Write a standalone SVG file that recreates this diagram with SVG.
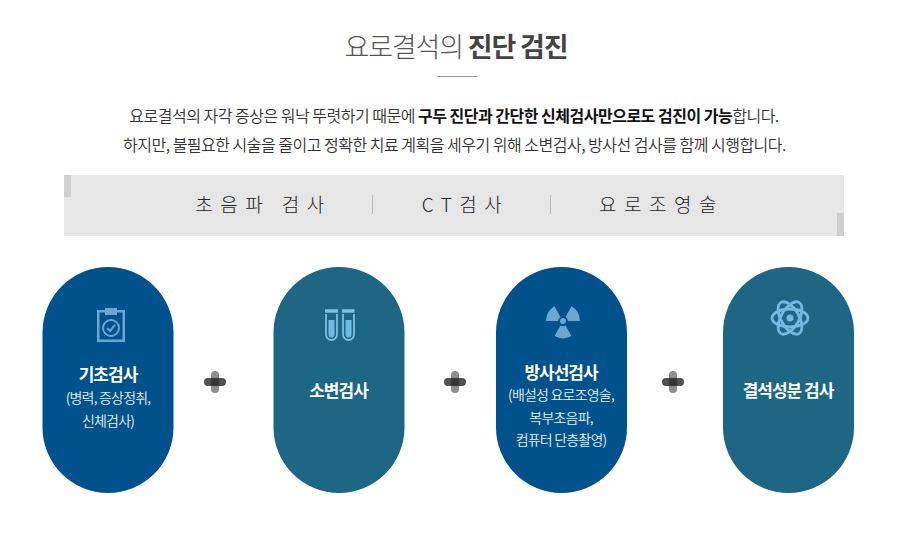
<svg xmlns="http://www.w3.org/2000/svg" width="915" height="538" viewBox="0 0 915 538">
<style>
text{font-family:"Noto Sans CJK KR","Noto Sans",sans-serif;text-anchor:middle}
.t{font-size:27px;fill:#555;font-weight:300;letter-spacing:-1.15px}
.p{font-size:16px;fill:#333;font-weight:350;letter-spacing:-.5px}
.b{font-weight:700;fill:#111}
.tab{font-size:19px;fill:#222;font-weight:300;letter-spacing:7.5px}
.h{font-size:17px;fill:#fff;font-weight:700;letter-spacing:-1px}
.s{font-size:14px;fill:#e6eef5;font-weight:350;letter-spacing:-.8px}
.navy{fill:#00528c}.teal{fill:#1d6785}
.ic{fill:#6aa6d0}.icl{fill:#72bbe0}
.pv{fill:#8e8e8e}.ph{fill:#505050}.pc{fill:#363636}
</style>
<rect width="915" height="538" fill="#fff"/>
<g id="title">
<text class="t" x="456" y="56.500">요로결석의 <tspan font-weight="700" fill="#444">진단 검진</tspan></text>
<rect x="437" y="76" width="40" height="1" fill="#999"/>
<text class="p" x="454" y="122">요로결석의 자각 증상은 워낙 뚜렷하기 때문에 <tspan class="b">구두 진단과 간단한 신체검사만으로도 검진이 가능</tspan>합니다.</text>
<text class="p" x="454.500" y="151">하지만, 불필요한 시술을 줄이고 정확한 치료 계획을 세우기 위해 소변검사, 방사선 검사를 함께 시행합니다.</text>
</g>
<g id="tabs">
<rect x="64" y="175" width="780" height="61" fill="#e6e6e6"/>
<rect x="64" y="175" width="7" height="22" fill="#cfcfcf"/>
<rect x="837" y="213" width="7" height="23" fill="#cfcfcf"/>
<rect x="372" y="195" width="1" height="19" fill="#bbb"/>
<rect x="550" y="195" width="1" height="19" fill="#bbb"/>
<text class="tab" x="263.500" y="212">초음파 검사</text>
<text class="tab" x="465.500" y="212">CT검사</text>
<text class="tab" x="661.500" y="212">요로조영술</text>
</g>
<g id="node-basic">
<rect class="navy" x="42.500" y="267" width="131" height="226" rx="65.500"/>
<path class="ic" fill-rule="evenodd" d="M97 310h8v-2h12v2h8v32h-28zM99.500 312.500v27h23v-27h-5.500v2.500h-12v-2.500z"/>
<circle cx="111" cy="328" r="8" fill="none" stroke="#6aa6d0" stroke-width="2"/>
<path d="M107 328l3 3 5-6" fill="none" stroke="#6aa6d0" stroke-width="2"/>
<text class="h" x="108" y="381">기초검사</text>
<text class="s" x="108" y="403">(병력, 증상정취,</text>
<text class="s" x="108" y="426">신체검사)</text>
</g>
<g id="node-urine">
<rect class="teal" x="273.500" y="267" width="131" height="226" rx="65.500"/>
<path d="M325 311h13M342 311h12.500" stroke="#7fbfe0" stroke-width="3.500"/>
<path d="M326 314v20.500a5.500 5.500 0 0 0 11 0v-20.500M343 314v20.500a5.500 5.500 0 0 0 11 0v-20.500" fill="none" stroke="#7fbfe0" stroke-width="1.800"/>
<path class="icl" d="M328.500 320h6v14.500a3 3 0 0 1-6 0zM345.500 320h6v14.500a3 3 0 0 1-6 0z"/>
<text class="h" x="338.500" y="397">소변검사</text>
</g>
<g id="node-radiation">
<rect class="navy" x="496" y="267" width="131" height="226" rx="65.500"/>
<circle class="ic" cx="563" cy="321" r="3"/>
<path class="ic" d="M546 321a17 17 0 0 1 8.500-14.700l6 10.700a5 5 0 0 0-2.500 4zM580 321a17 17 0 0 0-8.500-14.700l-6 10.700a5 5 0 0 1 2.500 4zM554.500 336a17 17 0 0 0 17 0l-6-10.500a5 5 0 0 1-5 0z"/>
<text class="h" x="561" y="379">방사선검사</text>
<text class="s" x="561" y="400">(배설성 요로조영술,</text>
<text class="s" x="561" y="423">복부초음파,</text>
<text class="s" x="561" y="445">컴퓨터 단층촬영)</text>
</g>
<g id="node-stone">
<rect class="teal" x="723" y="267" width="131" height="226" rx="65.500"/>
<g fill="none" stroke="#72bbe0" stroke-width="2.800">
<ellipse cx="790" cy="318" rx="18" ry="9"/>
<ellipse cx="790" cy="318" rx="18" ry="9" transform="rotate(60 790 318)"/>
<ellipse cx="790" cy="318" rx="18" ry="9" transform="rotate(120 790 318)"/>
</g>
<circle class="icl" cx="790" cy="318" r="3.500"/>
<text class="h" x="788" y="397">결석성분 검사</text>
</g>
<g id="connectors">
<g id="plus1"><rect class="pv" x="211" y="371" width="8" height="22" rx="4"/><rect class="ph" x="204" y="378" width="22" height="8" rx="4"/><rect class="pc" x="211" y="378" width="8" height="8"/></g>
<g id="plus2"><rect class="pv" x="451" y="371" width="8" height="22" rx="4"/><rect class="ph" x="444" y="378" width="22" height="8" rx="4"/><rect class="pc" x="451" y="378" width="8" height="8"/></g>
<g id="plus3"><rect class="pv" x="669" y="371" width="8" height="22" rx="4"/><rect class="ph" x="662" y="378" width="22" height="8" rx="4"/><rect class="pc" x="669" y="378" width="8" height="8"/></g>
</g>
</svg>
